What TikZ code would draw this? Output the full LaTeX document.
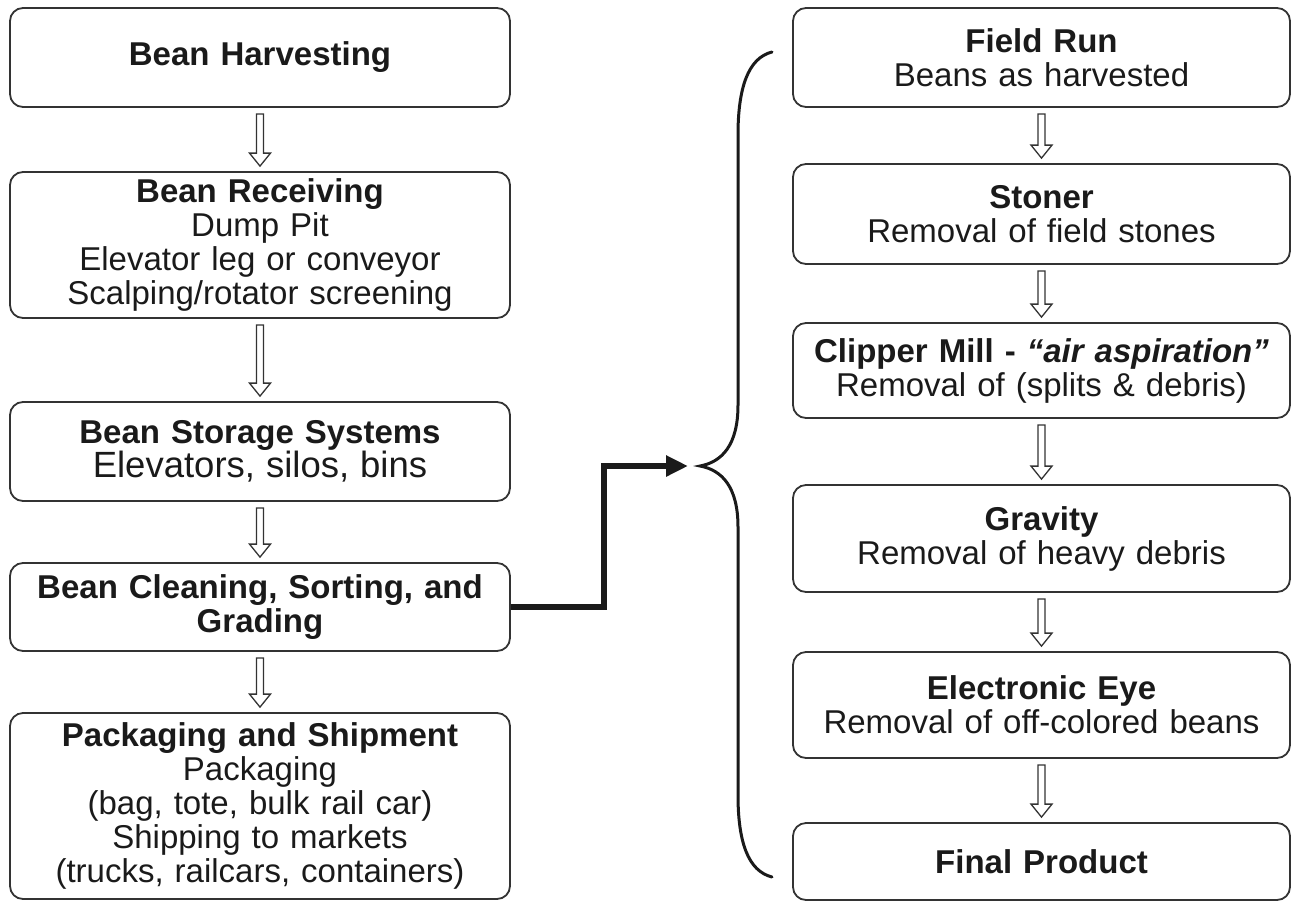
\documentclass[tikz,border=0pt]{standalone}
\usepackage{fontspec}
\setmainfont{Liberation Sans}
\usepackage{tikz}
\usetikzlibrary{arrows.meta,positioning,calc}

\definecolor{boxline}{HTML}{333333}
\definecolor{ink}{HTML}{1A1A1A}

\newcommand\bodysize{\fontsize{33}{34}\selectfont}
\newcommand\bigline[1]{{\fontsize{36.5}{37}\selectfont #1}}

% hollow down arrow between two stacked boxes
\newcommand\hollowdown[2]{%
  \draw[hollow] let \p1=($(#1.south)+(0,6)$), \p2=($(#2.north)+(0,-5)$) in
    (\x1-3.5pt,\y1) -- (\x1+3.5pt,\y1) -- (\x1+3.5pt,\y2+13pt)
    -- (\x1+10.5pt,\y2+13pt) -- (\x1,\y2) -- (\x1-10.5pt,\y2+13pt)
    -- (\x1-3.5pt,\y2+13pt) -- cycle;}

\tikzset{
  stage/.style={
    draw=boxline, line width=1.8pt, rounded corners=13pt,
    inner sep=0pt, align=center, text=ink,
    font=\bodysize
  },
  leftstage/.style={stage, minimum width=500pt, text width=494pt},
  rightstage/.style={stage, minimum width=497pt, text width=494pt},
  hollow/.style={draw=boxline, line width=1.3pt, fill=white, line join=miter},
  flow/.style={draw=ink, line width=5.5pt, line join=miter,
    -{Triangle[length=22pt,width=20pt]}},
  curly/.style={draw=ink, line width=3pt, line cap=round}
}

\begin{document}
\begin{tikzpicture}[x=1pt,y=-1pt]
  \useasboundingbox (0,0) rectangle (1293,903);

  % Left column
  \node (harvest) [leftstage, minimum height=99pt] at (260,57.5)
    {\textbf{Bean Harvesting}};
  \node (receive) [leftstage, minimum height=146pt] at (260,245)
    {\textbf{Bean Receiving}\\ Dump Pit\\ Elevator leg or conveyor\\
     Scalping/rotator screening};
  \node (storage) [leftstage, minimum height=99pt] at (260,451.5)
    {\textbf{Bean Storage Systems}\\ \bigline{Elevators, silos, bins}};
  \node (clean) [leftstage, minimum height=88pt] at (260,607)
    {\textbf{Bean Cleaning, Sorting, and}\\ \textbf{Grading}};
  \node (pack) [leftstage, minimum height=186pt] at (260,806)
    {\textbf{Packaging and Shipment}\\ Packaging\\ (bag, tote, bulk rail car)\\
     Shipping to markets\\ (trucks, railcars, containers)};

  % Right column
  \node (field) [rightstage, minimum height=99pt] at (1041.5,57.5)
    {\textbf{Field Run}\\ Beans as harvested};
  \node (stoner) [rightstage, minimum height=100pt] at (1041.5,214)
    {\textbf{Stoner}\\ Removal of field stones};
  \node (clipper) [rightstage, minimum height=95pt] at (1041.5,370.5)
    {\textbf{Clipper Mill - \textit{“air aspiration”}}\\ Removal of (splits \& debris)};
  \node (gravity) [rightstage, minimum height=107pt] at (1041.5,538.5)
    {\textbf{Gravity}\\ Removal of heavy debris};
  \node (eye) [rightstage, minimum height=106pt] at (1041.5,705)
    {\textbf{Electronic Eye}\\ Removal of off-colored beans};
  \node (final) [rightstage, minimum height=77pt] at (1041.5,861.5)
    {\textbf{Final Product}};

  % Hollow arrows
  \hollowdown{harvest}{receive}
  \hollowdown{receive}{storage}
  \hollowdown{storage}{clean}
  \hollowdown{clean}{pack}
  \hollowdown{field}{stoner}
  \hollowdown{stoner}{clipper}
  \hollowdown{clipper}{gravity}
  \hollowdown{gravity}{eye}
  \hollowdown{eye}{final}

  % Brace
  \coordinate (tip) at (700,466);
  \draw[curly] (772,52) .. controls (748,58) and (738,88) .. (738,135)
    -- (738,405) .. controls (738,445) and (722,462) .. (tip)
    .. controls (722,470) and (738,487) .. (738,527)
    -- (738,795) .. controls (738,842) and (748,871) .. (772,877);

  % Thick connector
  \draw[flow] (clean.east) -- ++(93,0) |- ($(tip)+(-12,0)$);
\end{tikzpicture}
\end{document}
